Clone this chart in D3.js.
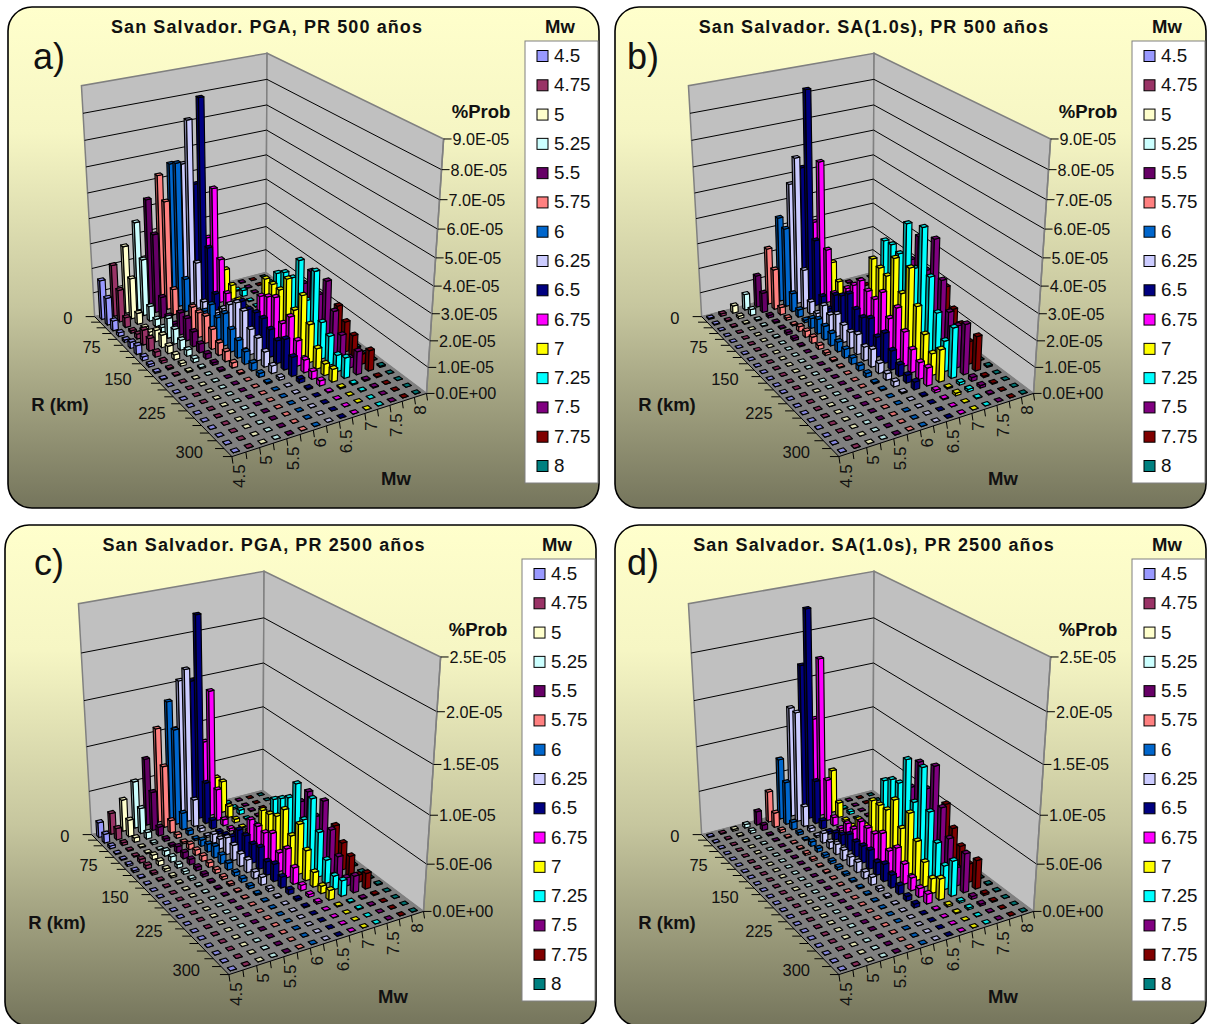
<!DOCTYPE html>
<html><head><meta charset="utf-8">
<script src="https://cdn.jsdelivr.net/npm/d3@7"></script>
<style>html,body{margin:0;padding:0;background:#fff}svg{display:block}text{font-family:"Liberation Sans",Arial,sans-serif;fill:#111}</style>
</head><body><svg id="c" width="1208" height="1024"></svg>
<script>
const mwLabels=["4.5","4.75","5","5.25","5.5","5.75","6","6.25","6.5","6.75","7","7.25","7.5","7.75","8"];
const mwColors=["#9999FF","#993366","#FFFFCC","#CCFFFF","#660066","#FF8080","#0066CC","#CCCCFF","#000080","#FF00FF","#FFFF00","#00FFFF","#800080","#800000","#008080"];
const rLabels=[0,15,30,45,60,75,90,105,120,135,150,165,180,195,210,225,240,255,270,285,300];
const rTickLabels=[0,75,150,225,300];
const mwTickLabels=["4.5","5","5.5","6","6.5","7","7.5","8"];
const ticks500=[0,1e-5,2e-5,3e-5,4e-5,5e-5,6e-5,7e-5,8e-5,9e-5];
const ticks2500=[0,5e-6,1e-5,1.5e-5,2e-5,2.5e-5];
const titles=["San Salvador. PGA, PR 500 años","San Salvador. SA(1.0s), PR 500 años","San Salvador. PGA, PR 2500 años","San Salvador. SA(1.0s), PR 2500 años"];
const letters=["a)","b)","c)","d)"];

// Panel a, units of 1e-5
const a45=[1.6,1.1,.4,.15,.1,.25,.35,.15,.1,.05,.03,0,0,0,0,0,0,0,0,0,0];
const a475=[2.1,1.3,.4,.1,.2,.6,.5,.2,.1,.05,.03,0,0,0,0,0,0,0,0,0,0];
const a50=[2.75,1.65,.45,.1,.15,.45,.5,.3,.2,.1,.05,0,0,0,0,0,0,0,0,0,0];
const a525=[3.6,2.3,.6,.3,.2,.8,.6,.4,.25,.15,.05,0,0,0,0,0,0,0,0,0,0];
const a55=[4.4,3.2,.85,.3,.2,.9,.9,.6,.35,.2,.1,.05,0,0,0,0,0,0,0,0,0];
const a575=[5.25,4.4,1.05,.3,.2,1.0,1.0,1.1,.8,.5,.4,.2,.05,0,0,0,0,0,0,0,0];
const a60=[5.6,5.8,1.35,.4,.2,.7,1.2,.9,1.3,.9,.7,.5,.3,.15,.05,0,0,0,0,0,0];
const a625=[5.5,7.35,1.9,.5,.3,.5,.9,1.3,1.6,1.5,1.0,.9,.6,.3,.1,0,0,0,0,0,0];
const a65=[4.6,8.1,2.4,.7,.3,.3,.5,1.3,1.2,1.3,1.3,1.1,.9,1.2,.75,.15,.05,0,0,0,0];
const a675=[2.3,4.5,1.8,.6,.3,.2,.2,.5,1.6,1.8,2.0,1.2,1.7,1.0,.5,.3,.2,.03,0,0,0];
const a70=[.3,1.05,.6,.2,.1,.1,.3,1.95,1.95,1.95,2.6,1.6,2.4,1.5,.8,.45,.5,.05,0,0,0];
const a725=[.03,.05,.25,.03,.03,.05,.8,2.05,2.3,2.3,3.2,1.85,3.2,1.45,1.15,.65,.8,.05,.03,0,0];
const a75=[.03,.03,.03,.03,.03,.05,.1,.4,.8,1.95,2.65,1.95,2.7,1.75,1.05,.4,.9,.05,.03,0,0];
const a775=[0,0,0,0,0,0,0,0,.05,.1,.2,.5,1.6,1.2,.9,.4,.8,.03,0,0,0];
const a80=[0,0,0,0,0,0,0,0,0,0,.02,.03,.05,.05,.03,.03,.05,0,0,0,0];
// Panel b, units of 1e-5
const b45=[.05,.03,0,0,0,0,0,0,0,0,0,0,0,0,0,0,0,0,0,0,0];
const b475=[.1,.05,.03,0,0,0,0,0,0,0,0,0,0,0,0,0,0,0,0,0,0];
const b50=[.3,.1,.03,0,0,0,0,0,0,0,0,0,0,0,0,0,0,0,0,0,0];
const b525=[.65,.25,.05,.03,0,.03,0,0,0,0,0,0,0,0,0,0,0,0,0,0,0];
const b55=[1.3,.8,.1,.05,.03,.1,.1,.03,0,0,0,0,0,0,0,0,0,0,0,0,0];
const b575=[2.3,1.65,.3,.1,.05,.2,.25,.25,.15,.1,.05,.03,0,0,0,0,0,0,0,0,0];
const b60=[3.45,3.2,.75,.3,.1,.4,.6,.55,.5,.4,.35,.25,.2,.15,.05,.03,0,0,0,0,0];
const b625=[4.7,5.9,1.6,.5,.25,.8,.65,.9,.7,.65,.8,.55,.7,.4,.25,.2,.05,0,0,0,0];
const b65=[5.25,8.4,2.7,.6,.3,1.1,1.3,1.6,1.2,1.1,1.3,.8,1.2,.75,.45,.3,.3,.03,0,0,0];
const b675=[2.95,5.55,2.2,.6,.3,1.25,1.6,2.0,1.8,1.7,2.2,1.4,2.05,1.35,.9,.65,.7,.1,.03,0,0];
const b70=[.3,1.35,.75,.2,.1,.4,.8,2.75,2.6,2.5,3.4,2.25,3.45,2.2,1.35,.85,1.25,.05,.1,0,0];
const b725=[.03,.03,.2,.03,.05,.1,.3,3.35,3.4,3.25,4.6,3.1,4.85,3.2,2.05,1.2,1.95,.1,.1,.03,0];
const b75=[.03,.03,.03,.05,.03,.1,.3,1.0,2.8,2.9,4.0,2.9,4.3,2.95,1.95,1.65,1.95,.15,.1,.03,0];
const b775=[0,0,0,0,0,0,0,0,.05,.1,.2,.6,2.35,1.7,1.35,.9,1.35,.05,.03,0,0];
const b80=[0,0,0,0,0,0,0,0,0,0,.02,.03,.05,.05,.05,.03,.05,0,0,0,0];
// Panel c, units of 1e-6
const c45=[1.7,1.0,.3,.1,.1,.2,.2,.1,.05,0,0,0,0,0,0,0,0,0,0,0,0];
const c475=[2.4,1.3,.3,.1,.1,.4,.4,.2,.1,.05,0,0,0,0,0,0,0,0,0,0,0];
const c50=[3.6,1.9,.5,.1,.1,.5,.5,.3,.2,.1,.05,0,0,0,0,0,0,0,0,0,0];
const c525=[5.35,2.9,.75,.2,.1,.6,.6,.4,.3,.2,.1,.05,0,0,0,0,0,0,0,0,0];
const c55=[7.6,4.4,1.0,.3,.2,.7,.7,.6,.4,.3,.15,.1,.05,0,0,0,0,0,0,0,0];
const c575=[10.7,7,1.4,.4,.2,.6,.6,.6,.5,.4,.3,.2,.1,.05,0,0,0,0,0,0,0];
const c60=[13.4,10.8,1.9,.5,.2,.7,.9,1.3,1.0,.75,.4,.4,.3,.15,.05,0,0,0,0,0,0];
const c625=[15.4,17.1,3.1,.4,.2,1.0,1.1,1.9,1.7,1.4,1.4,.75,.85,.3,.1,0,0,0,0,0,0];
const c65=[15.1,22.6,4.7,1.0,.3,.6,1.0,2.4,2.4,2.1,2.4,1.5,1.9,1.2,.5,.2,.1,0,0,0,0];
const c675=[8,14.2,3.6,.7,.3,.4,.8,3.2,3.1,3.0,3.6,2.1,3.2,1.8,.6,.3,.2,.03,0,0,0];
const c70=[3.5,3.6,1.3,.4,.1,.3,.8,3.9,4.1,4.5,5.85,3.6,5.5,3.3,1.6,.8,1.05,.1,0,0,0];
const c725=[.1,.2,.5,.1,.1,.1,1.0,4.8,5.5,6.2,8.3,5.0,7.9,4.9,2.55,1.5,1.7,.1,.1,0,0];
const c75=[.05,.05,.1,.1,.05,.1,.2,.5,2.0,5.4,7.1,5.0,7.3,4.8,2.55,.9,1.8,.1,.05,0,0];
const c775=[0,0,0,0,0,0,0,0,.1,.2,.4,1.0,4.25,3.0,2.2,.8,1.7,.1,0,0,0];
const c80=[0,0,0,0,0,0,0,0,0,0,.05,.05,.1,.1,.05,.05,.1,0,0,0,0];
// Panel d, units of 1e-6
const d45=[.1,.05,0,0,0,0,0,0,0,0,0,0,0,0,0,0,0,0,0,0,0];
const d475=[.1,.05,0,0,0,0,0,0,0,0,0,0,0,0,0,0,0,0,0,0,0];
const d50=[.2,.1,.05,0,0,0,0,0,0,0,0,0,0,0,0,0,0,0,0,0,0];
const d525=[.4,.3,.05,.03,0,0,0,0,0,0,0,0,0,0,0,0,0,0,0,0,0];
const d55=[1.55,.6,.1,.05,.03,.05,.05,.03,0,0,0,0,0,0,0,0,0,0,0,0,0];
const d575=[3.5,1.65,.3,.1,.05,.1,.2,.2,.1,.1,.05,.03,0,0,0,0,0,0,0,0,0];
const d60=[6.9,4.85,.85,.3,.1,.5,.4,.3,.3,.3,.2,.15,.1,.1,.05,0,0,0,0,0,0];
const d625=[12.4,12.4,2.3,.4,.2,1.1,.75,1.15,1.15,1.05,1.15,.75,.85,.3,.15,.05,0,0,0,0,0];
const d65=[16.8,23.2,4.9,.95,.3,.8,1.2,1.9,1.7,1.9,2.1,1.4,1.9,1.4,.95,.5,.4,.03,0,0,0];
const d675=[10.6,17.7,4.7,.95,.3,1.5,1.5,3.0,2.9,2.9,3.6,2.3,3.3,2.2,1.4,.95,1.05,.1,0,0,0];
const d70=[.5,4.9,1.7,.3,.2,1.6,1.5,5.0,5.1,5.2,6.9,4.4,6.7,4.3,2.7,1.6,2.3,.2,.1,0,0];
const d725=[.05,.1,.3,.1,.1,.3,.6,6.9,7.6,7.8,10.9,6.9,11.2,7.1,4.4,2.6,3.8,.2,.2,.05,0];
const d75=[.05,.05,.05,.1,.05,.2,.5,1.5,4.0,7.0,10.3,8.0,11,7.2,4.5,2.0,4.2,.3,.2,.05,0];
const d775=[0,0,0,0,0,0,0,0,.1,.2,.5,1.5,6.6,4.6,3.3,2.0,3.1,.2,.1,0,0];
const d80=[0,0,0,0,0,0,0,0,0,0,.05,.1,.1,.1,.1,.1,.1,.05,0,0,0];

const panelRows=[
 {rows:[a45,a475,a50,a525,a55,a575,a60,a625,a65,a675,a70,a725,a75,a775,a80],unit:1e-5,ticks:ticks500},
 {rows:[b45,b475,b50,b525,b55,b575,b60,b625,b65,b675,b70,b725,b75,b775,b80],unit:1e-5,ticks:ticks500},
 {rows:[c45,c475,c50,c525,c55,c575,c60,c625,c65,c675,c70,c725,c75,c775,c80],unit:1e-6,ticks:ticks2500},
 {rows:[d45,d475,d50,d525,d55,d575,d60,d625,d65,d675,d70,d725,d75,d775,d80],unit:1e-6,ticks:ticks2500}
];
const panelOffsets=[[0,0],[607,0],[-3,518],[607,518]];
const frames=[[8,7],[615,7],[5,525],[615,525]];
const letterPos=[[33,69],[627,69],[34,575],[627,575]];

// Scene calibration: where the corners of the unit cube (u along R, v along Mw, z up) land on the page for panel a
const calib=[[0,0,0,95,316],[1,0,0,232,457],[1,1,0,427,393],[0,1,0,265,273],[0,0,1,81,86],[1,1,1,443,139],[0,1,1,268,53]];
function solve(A,b){const n=b.length,M=A.map((r,i)=>[...r,b[i]]);
 for(let i=0;i<n;i++){let p=i;for(let r=i+1;r<n;r++)if(Math.abs(M[r][i])>Math.abs(M[p][i]))p=r;[M[i],M[p]]=[M[p],M[i]];
  for(let r=0;r<n;r++){if(r===i)continue;const f=M[r][i]/M[i][i];for(let c=i;c<=n;c++)M[r][c]-=f*M[i][c];}}
 return M.map((r,i)=>r[n]/r[i]);}
const P=(()=>{const rows=[],rhs=[];
 calib.forEach(([u,v,z,x,y])=>{rows.push([u,v,z,1,0,0,0,0,-x*u,-x*v,-x*z]);rhs.push(x);rows.push([0,0,0,0,u,v,z,1,-y*u,-y*v,-y*z]);rhs.push(y);});
 const N=rows[0].length,A=d3.range(N).map(i=>d3.range(N).map(j=>d3.sum(rows,r=>r[i]*r[j]))),b=d3.range(N).map(i=>d3.sum(rows,(r,k)=>r[i]*rhs[k]));
 return solve(A,b);})();
const proj=(u,v,z)=>{const w=P[8]*u+P[9]*v+P[10]*z+1;return [(P[0]*u+P[1]*v+P[2]*z+P[3])/w,(P[4]*u+P[5]*v+P[6]*z+P[7])/w];};

const uBand=d3.scaleBand().domain(d3.range(rLabels.length)).range([0,1]).paddingInner(0.62).paddingOuter(0.31);
const vBand=d3.scaleBand().domain(d3.range(mwLabels.length)).range([0,1]).paddingInner(0.56).paddingOuter(0.28);
const path=pts=>"M"+pts.map(p=>p[0].toFixed(2)+","+p[1].toFixed(2)).join("L")+"Z";
const svg=d3.select("#c");
const defs=svg.append("defs");
const grad=defs.append("linearGradient").attr("id","bg").attr("x1",0).attr("y1",0).attr("x2",0).attr("y2",1);
[[0,"#FFFFCC"],[.25,"#F6F6C4"],[.6,"#C6C69E"],[1,"#75755C"]].forEach(([o,c])=>grad.append("stop").attr("offset",o).attr("stop-color",c));
const fmt=v=>{if(v===0)return "0.0E+00";const [m,e]=v.toExponential(1).split("e");return m+"E-"+String(Math.abs(+e)).padStart(2,"0");};

panelRows.forEach((panel,pi)=>{
 const [ox,oy]=panelOffsets[pi];
 const g=svg.append("g");
 g.append("rect").attr("x",frames[pi][0]).attr("y",frames[pi][1]).attr("width",591).attr("height",501).attr("rx",24).attr("fill","url(#bg)").attr("stroke","#000").attr("stroke-width",1.6);
 const plot=g.append("g").attr("transform",`translate(${ox},${oy})`);
 const maxV=panel.ticks[panel.ticks.length-1];
 const zS=d3.scaleLinear().domain([0,maxV]).range([0,1]);
 plot.append("path").attr("d",path([proj(0,0,0),proj(0,1,0),proj(0,1,1),proj(0,0,1)])).attr("fill","#C0C0C0").attr("stroke","#808080").attr("stroke-width",1.5);
 plot.append("path").attr("d",path([proj(0,1,0),proj(1,1,0),proj(1,1,1),proj(0,1,1)])).attr("fill","#C0C0C0").attr("stroke","#808080").attr("stroke-width",1.5);
 panel.ticks.slice(1,-1).forEach(t=>{const z=zS(t);
  plot.append("path").attr("d","M"+proj(0,0,z)+"L"+proj(0,1,z)+"L"+proj(1,1,z)).attr("fill","none").attr("stroke","#000").attr("stroke-width",1);});
 plot.append("path").attr("d",path([proj(0,0,0),proj(1,0,0),proj(1,1,0),proj(0,1,0)])).attr("fill","#808080").attr("stroke","#808080");
 plot.append("path").attr("d","M"+proj(1,1,0)+"L"+proj(1,1,1)).attr("stroke","#808080").attr("stroke-width",1.5);
 panel.ticks.forEach(t=>{const [x,y]=proj(1,1,zS(t));
  plot.append("line").attr("x1",x).attr("x2",x+8).attr("y1",y).attr("y2",y).attr("stroke","#000");
  plot.append("text").attr("x",x+9).attr("y",y+6).attr("font-size",16.2).text(fmt(t));});
 plot.append("path").attr("d","M"+proj(0,0,0)+"L"+proj(1,0,0)+"L"+proj(1,1,0)).attr("fill","none").attr("stroke","#000");
 d3.range(rLabels.length+1).forEach(i=>{const [x,y]=proj(i/rLabels.length,0,0);
  plot.append("line").attr("x1",x).attr("y1",y).attr("x2",x-9).attr("y2",y).attr("stroke","#000");});
 d3.range(mwLabels.length+1).forEach(j=>{const [x,y]=proj(1,j/mwLabels.length,0);
  plot.append("line").attr("x1",x).attr("y1",y).attr("x2",x+1).attr("y2",y+7).attr("stroke","#000");});
 rTickLabels.forEach(r=>{const i=rLabels.indexOf(r);const [x,y]=proj((i+.5)/rLabels.length,0,0);
  plot.append("text").attr("x",x-25).attr("y",y+5).attr("text-anchor","end").attr("font-size",16.5).text(r);});
 mwTickLabels.forEach(m=>{const j=mwLabels.indexOf(m);const [x,y]=proj(1,(j+.5)/mwLabels.length,0);
  plot.append("text").attr("transform",`translate(${x+6},${y+10}) rotate(-90)`).attr("text-anchor","end").attr("font-size",17).text(m);});
 const bars=plot.append("g").attr("stroke","#000").attr("stroke-width",1.15).attr("stroke-linejoin","round");
 d3.range(mwLabels.length-1,-1,-1).forEach(j=>{
  const col=d3.color(mwColors[j]),dark=col.darker(1.3).formatHex(),top=col.darker(.35).formatHex();
  panel.rows[j].forEach((val,i)=>{
   const u0=uBand(i),u1=u0+uBand.bandwidth(),v0=vBand(j),v1=v0+vBand.bandwidth(),z=zS(val*panel.unit);
   bars.append("path").attr("d",path([proj(u0,v0,0),proj(u1,v0,0),proj(u1,v0,z),proj(u0,v0,z)])).attr("fill",dark);
   bars.append("path").attr("d",path([proj(u1,v0,0),proj(u1,v1,0),proj(u1,v1,z),proj(u1,v0,z)])).attr("fill",mwColors[j]);
   bars.append("path").attr("d",path([proj(u0,v0,z),proj(u1,v0,z),proj(u1,v1,z),proj(u0,v1,z)])).attr("fill",top);
  });
 });
 g.append("text").attr("x",letterPos[pi][0]).attr("y",letterPos[pi][1]).attr("font-size",36).text(letters[pi]);
 plot.append("text").attr("x",267).attr("y",33).attr("text-anchor","middle").attr("font-size",18).attr("font-weight","bold").attr("letter-spacing",1.1).text(titles[pi]);
 plot.append("text").attr("x",481).attr("y",118).attr("text-anchor","middle").attr("font-size",18.5).attr("font-weight","bold").text("%Prob");
 plot.append("text").attr("x",60).attr("y",411).attr("text-anchor","middle").attr("font-size",18.5).attr("font-weight","bold").text("R (km)");
 plot.append("text").attr("x",396).attr("y",485).attr("text-anchor","middle").attr("font-size",18.5).attr("font-weight","bold").text("Mw");
 plot.append("text").attr("x",560).attr("y",33).attr("text-anchor","middle").attr("font-size",18.5).attr("font-weight","bold").text("Mw");
 const ly=d3.scalePoint().domain(mwLabels).range([55.5,465.5]);
 plot.append("rect").attr("x",525).attr("y",41).attr("width",73).attr("height",442).attr("fill","#fff").attr("stroke","#808080");
 mwLabels.forEach((m,j)=>{
  plot.append("rect").attr("x",537).attr("y",ly(m)-5).attr("width",11).attr("height",11).attr("fill",mwColors[j]).attr("stroke","#000");
  plot.append("text").attr("x",554).attr("y",ly(m)+6.5).attr("font-size",18.8).text(m);
 });
});
</script></body></html>
